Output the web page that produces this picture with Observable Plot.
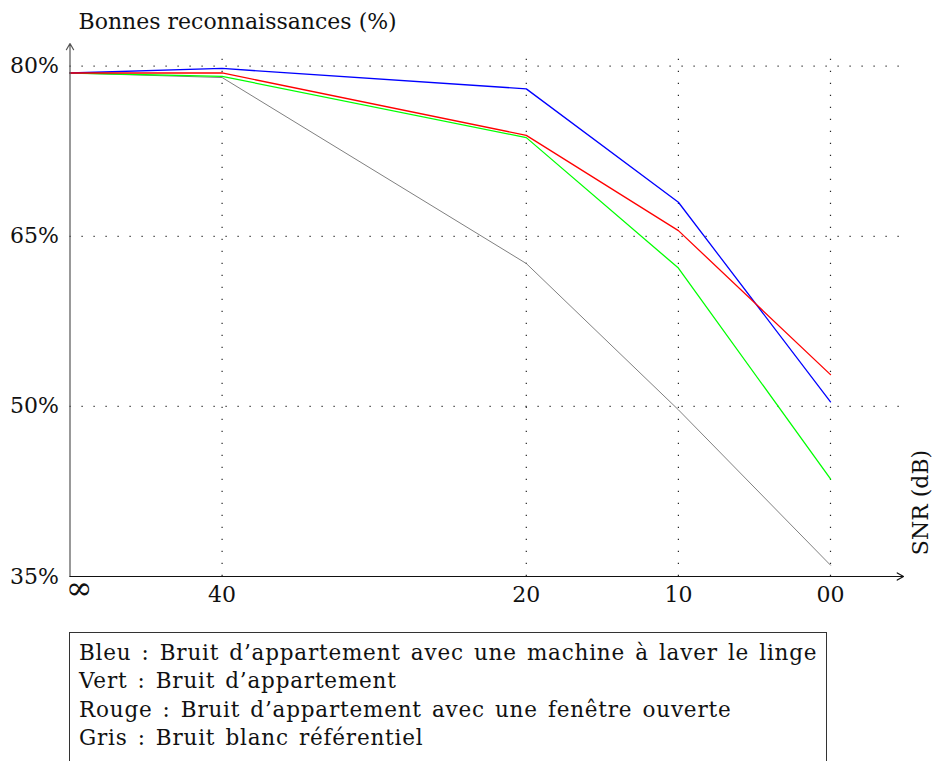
<!DOCTYPE html>
<html><head><meta charset="utf-8">
<script src="https://cdn.jsdelivr.net/npm/d3@7"></script>
<script src="https://cdn.jsdelivr.net/npm/@observablehq/plot@0.6"></script>
<style>
body{margin:0;background:#fff;width:936px;height:761px;overflow:hidden;position:relative;font-family:"DejaVu Serif",serif;}
#chart{position:absolute;left:0;top:0;}
#legend{position:absolute;left:69px;top:632px;width:758px;height:200px;border:1px solid #333;box-sizing:border-box;padding:6px 0 0 9px;font-size:21.5px;line-height:28.3px;letter-spacing:0.8px;word-spacing:2.5px;color:#111;white-space:nowrap;}
</style></head><body>
<div id="chart"></div>
<div id="legend"></div>
<script>
// Data
const snrLabels = ["∞", "40", "20", "10", "00"];
const snrPos = [0, 1, 3, 4, 5];
const blue  = [79.4, 79.8, 78.0, 68.0, 50.4];
const green = [79.4, 79.1, 73.7, 62.2, 43.6];
const red   = [79.4, 79.4, 73.9, 65.5, 52.8];
const gray  = [79.4, 79.0, 62.6, 49.7, 36.0];
const yTicks = [35, 50, 65, 80];
const gridY = [50, 65, 80];
const yTitle = "Bonnes reconnaissances (%)";
const xTitle = "SNR (dB)";
const legendLines = [
  "Bleu : Bruit d’appartement avec une machine à laver le linge",
  "Vert : Bruit d’appartement",
  "Rouge : Bruit d’appartement avec une fenêtre ouverte",
  "Gris : Bruit blanc référentiel"
];

const series = [
  {name: "Gris", values: gray, color: "#808080", w: 1},
  {name: "Vert", values: green, color: "#00ff00", w: 1.3},
  {name: "Bleu", values: blue, color: "#0000ff", w: 1.3},
  {name: "Rouge", values: red, color: "#ff0000", w: 1.3}
];
const rows = series.flatMap(s => s.values.map((v, i) => ({s: s.name, x: snrPos[i], y: v})));

const xMin = 0, xMax = 5.48, yMin = 35, yMax = 82, gridTop = 81.5;
const font = "DejaVu Serif";

const lineMarks = series.map(s =>
  Plot.line(rows.filter(r => r.s === s.name), {x: "x", y: "y", stroke: s.color, strokeWidth: s.w})
);

const chart = Plot.plot({
  width: 936,
  height: 625,
  marginLeft: 69.5,
  marginRight: 33,
  marginTop: 43,
  marginBottom: 49,
  style: {fontFamily: font, fontSize: "22px", color: "#111", background: "#fff"},
  x: {domain: [xMin, xMax]},
  y: {domain: [yMin, yMax]},
  marks: [
    Plot.ruleY(gridY, {x1: xMin, x2: xMax, stroke: "#000", strokeWidth: 1.2, strokeDasharray: "1.2,10.8", strokeOpacity: 0.85}),
    Plot.ruleX(snrPos.slice(1), {y1: yMin, y2: gridTop, stroke: "#000", strokeWidth: 1.2, strokeDasharray: "1.2,10.8", strokeOpacity: 0.85}),
    ...lineMarks,
    Plot.arrow([0], {x1: xMin, x2: xMin, y1: yMin, y2: yMax, stroke: "#555", strokeWidth: 1.2, headLength: 9}),
    Plot.arrow([0], {x1: xMin, x2: xMax, y1: yMin, y2: yMin, stroke: "#111", strokeWidth: 1.2, headLength: 9}),
    Plot.axisY(yTicks, {tickSize: 0, tickPadding: 11, tickFormat: d => d + "%", label: null, fontSize: 22}),
    Plot.axisX(snrPos.slice(1), {tickSize: 0, tickPadding: 10, tickFormat: d => snrLabels[snrPos.indexOf(d)], label: null, fontSize: 22}),
    Plot.text([snrLabels[0]], {x: snrPos[0], y: yMin, text: d => d, dx: 9, dy: 12, fontSize: 32}),
    Plot.text([yTitle], {frameAnchor: "top-left", text: d => d, textAnchor: "start", lineAnchor: "bottom", dx: 8.5, dy: -15, fontSize: 22}),
    Plot.text([xTitle], {frameAnchor: "bottom-right", text: d => d, rotate: -90, textAnchor: "middle", lineAnchor: "middle", dx: 17, dy: -74, fontSize: 22})
  ]
});
document.getElementById("chart").appendChild(chart);

const lg = d3.select("#legend");
legendLines.forEach(t => lg.append("div").text(t));
</script>
</body></html>
